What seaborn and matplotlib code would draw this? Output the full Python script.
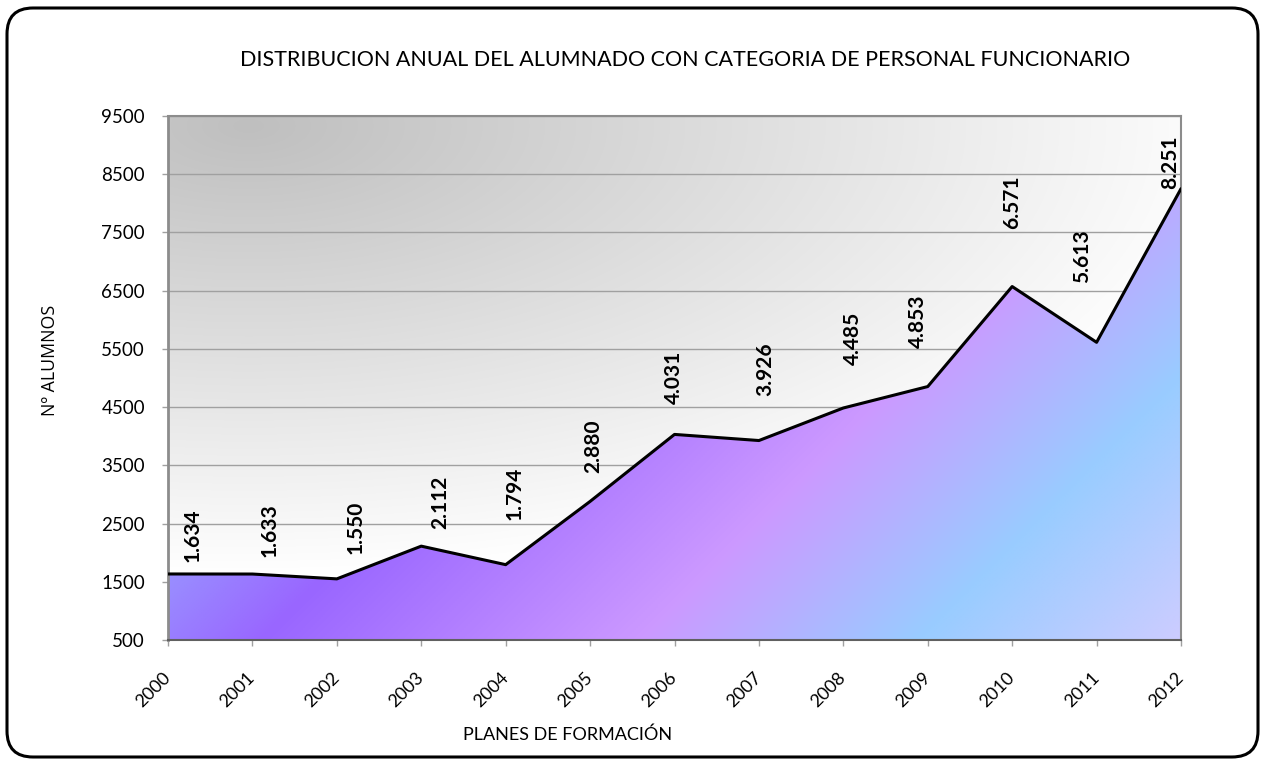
import numpy as np
import matplotlib
matplotlib.use("Agg")
import matplotlib.pyplot as plt
import seaborn as sns
from matplotlib.colors import LinearSegmentedColormap
from matplotlib.patches import FancyBboxPatch

# ---------------- data ----------------
years = [2000, 2001, 2002, 2003, 2004, 2005, 2006, 2007, 2008, 2009, 2010, 2011, 2012]
alumnos = [1634, 1633, 1550, 2112, 1794, 2880, 4031, 3926, 4485, 4853, 6571, 5613, 8251]
value_labels = ["1.634", "1.633", "1.550", "2.112", "1.794", "2.880", "4.031",
                "3.926", "4.485", "4.853", "6.571", "5.613", "8.251"]
year_labels = [str(y) for y in years]
y_ticks = [500, 1500, 2500, 3500, 4500, 5500, 6500, 7500, 8500, 9500]
title = "DISTRIBUCION ANUAL DEL ALUMNADO CON CATEGORIA DE PERSONAL FUNCIONARIO"
xlabel = "PLANES DE FORMACIÓN"
ylabel = "Nº ALUMNOS"

# label offsets (pixels) relative to each point: horizontal shift, vertical gap
label_dx = [25, 17, 19, 19, 9, 3, -1, 6, 10, -10, 0, -15, -11]
label_gap = [12, 17, 25, 17, 45, 28, 30, 45, 43, 39, 58, 59, 0]

# ---------------- style ----------------
sns.set_theme(style="white")
plt.rcParams['font.family'] = ['Lato', 'DejaVu Sans']

FW, FH = 1265, 760
fig = plt.figure(figsize=(FW / 100, FH / 100), dpi=100)
fig.patch.set_facecolor('white')

AX_L, AX_R, AX_T, AX_B = 168, 1181, 116, 640
W, H = AX_R - AX_L, AX_B - AX_T
ax = fig.add_axes([AX_L / FW, 1 - AX_B / FH, W / FW, H / FH])

x0, x1 = years[0], years[-1]
y0, y1 = y_ticks[0], y_ticks[-1]
extent = (x0, x1, y0, y1)

# pixel grids for gradients (row 0 = top)
nx, ny = 500, 260
X, Y = np.meshgrid(np.linspace(0, 1, nx), np.linspace(0, 1, ny))
PX = X * W
PY = Y * H

# background radial gradient (gray at top-left -> white)
r = np.sqrt(((PX - 80) / 1000.0) ** 2 + ((PY - 10) / 450.0) ** 2)
t = np.clip(r, 0, 1)
g = 191 / 255 + (1 - 191 / 255) * t
bg = np.dstack([g, g, g])
ax.imshow(bg, extent=extent, origin='upper', aspect='auto', zorder=0,
          interpolation='bilinear')

# area gradient (diagonal)
S = (AX_L + PX) + (AX_T + PY)
smin, smax = 700.0, 1821.0
stops = [(700, '#9999ff'), (900, '#9966ff'), (1280, '#cc99ff'),
         (1560, '#99ccff'), (1821, '#ccccff')]
cmap = LinearSegmentedColormap.from_list(
    'fillgrad', [((s - smin) / (smax - smin), c) for s, c in stops])
fill_img = cmap(np.clip((S - smin) / (smax - smin), 0, 1))
im = ax.imshow(fill_img, extent=extent, origin='upper', aspect='auto', zorder=1,
               interpolation='bilinear')
coll = ax.fill_between(years, alumnos, y0, facecolor='none', edgecolor='none')
im.set_clip_path(coll.get_paths()[0], transform=ax.transData)

# line
sns.lineplot(x=years, y=alumnos, color='black', linewidth=2.2, ax=ax, zorder=3)

ax.set_xlim(x0, x1)
ax.set_ylim(y0, y1)

# grid
ax.set_yticks(y_ticks)
ax.set_yticklabels([str(v) for v in y_ticks])
ax.set_xticks(years)
ax.set_xticklabels(year_labels, rotation=45, ha='right', va='center',
                   rotation_mode='anchor')
ax.set_axisbelow(True)
ax.grid(axis='y', color='#a0a0a0', linewidth=1.0)
ax.grid(axis='x', visible=False)

ax.tick_params(axis='y', direction='out', length=4.5, width=1, color='#a0a0a0',
               labelsize=13.5, pad=12, left=True, labelcolor='black')
ax.tick_params(axis='x', direction='out', length=4.5, width=1, color='#a0a0a0',
               labelsize=13, pad=21, bottom=True, labelcolor='black')

for side, sp in ax.spines.items():
    sp.set_visible(True)
    sp.set_color('#8c8c8c')
    sp.set_linewidth(1.5)
ax.spines['left'].set_linewidth(2)
ax.spines['bottom'].set_color('#606060')

ax.set_xlabel('')
ax.set_ylabel('')

# data labels
for i in range(len(years)):
    ax.annotate(value_labels[i], (years[i], alumnos[i]),
                xytext=(label_dx[i], label_gap[i]), textcoords='offset pixels',
                rotation=90, ha='center', va='bottom', fontweight='bold',
                fontsize=15, color='black', zorder=5, annotation_clip=False)

# titles
fig.text(685 / FW, 1 - 60 / FH, title, ha='center', va='center', fontsize=15.5,
         color='black')
fig.text(50 / FW, 1 - 360 / FH, ylabel, ha='center', va='center', rotation=90,
         fontsize=12.8, color='black', family=['Open Sans', 'DejaVu Sans'])
fig.text(568 / FW, 1 - 735 / FH, xlabel, ha='center', va='center',
         fontsize=13, color='black')

# rounded border
border = FancyBboxPatch((0.07, 0.03), 12.51, 7.49,
                        boxstyle="round,pad=0,rounding_size=0.26",
                        transform=fig.dpi_scale_trans, facecolor='none',
                        edgecolor='black', linewidth=2.2, zorder=10)
fig.patches.append(border)

fig.savefig('out.png', dpi=100)
